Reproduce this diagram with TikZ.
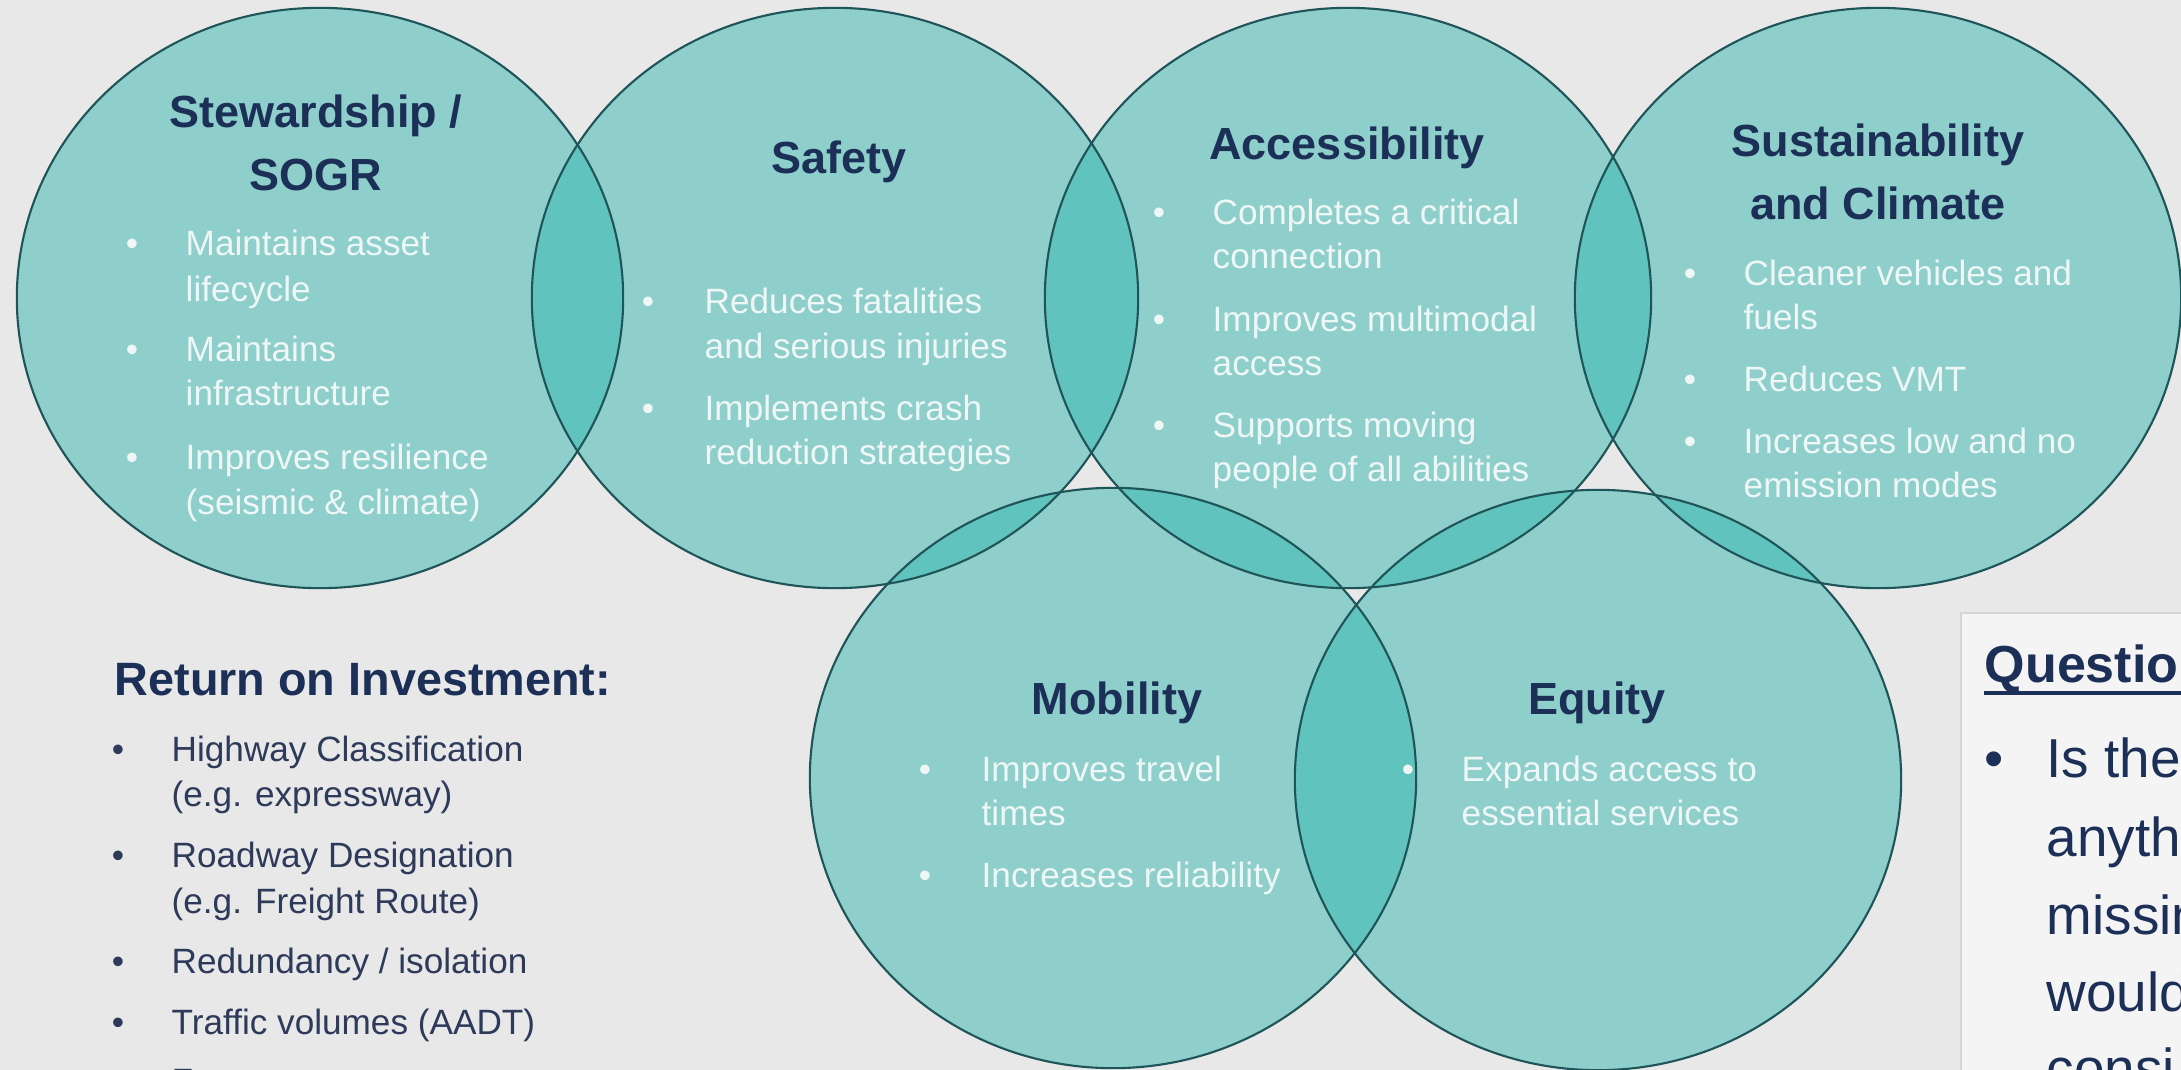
\documentclass[tikz,border=0pt]{standalone}
\usepackage{fontspec}
\setmainfont{Liberation Sans}
\usetikzlibrary{calc}

\definecolor{pagebg}{HTML}{E8E8E8}
\definecolor{ringfill}{RGB}{54,184,176}
\definecolor{ringedge}{HTML}{1F5458}
\definecolor{navy}{HTML}{1B2F57}
\definecolor{paletext}{HTML}{EEF7F6}
\definecolor{roitext}{HTML}{2D3A5A}
\definecolor{qboxfill}{HTML}{F4F4F4}
\definecolor{qboxedge}{HTML}{D6D6D6}

\newcommand\txtbody{\fontsize{10pt}{12pt}\selectfont}
\newcommand\txthead{\fontsize{12.8pt}{15pt}\selectfont\bfseries}
\newcommand\txtroihead{\fontsize{13.3pt}{16pt}\selectfont\bfseries}
\newcommand\txtqhead{\fontsize{14.8pt}{17pt}\selectfont\bfseries}
\newcommand\txtqbody{\fontsize{15.6pt}{18pt}\selectfont}

\tikzset{
  ringpaint/.style={fill=ringfill, fill opacity=0.5},
  ringline/.style={draw=ringedge, line width=0.6pt},
  chead/.style={font=\txthead, text=navy, inner sep=0pt, anchor=base},
  cline/.style={font=\txtbody, text=paletext, inner sep=0pt, anchor=base west},
  cdot/.style={font=\txtbody, text=paletext, inner sep=0pt, anchor=base},
  rhead/.style={font=\txtroihead, text=navy, inner sep=0pt, anchor=base west},
  rline/.style={font=\txtbody, text=roitext, inner sep=0pt, anchor=base west},
  rdot/.style={font=\txtbody, text=roitext, inner sep=0pt, anchor=base},
  qhead/.style={font=\txtqhead, text=navy, inner sep=0pt, anchor=base west},
  qline/.style={font=\txtqbody, text=navy, inner sep=0pt, anchor=base west},
  qdot/.style={font=\txtqbody, text=navy, inner sep=0pt, anchor=base},
}

\begin{document}
\begin{tikzpicture}[x=0.01cm, y=-0.01cm]
\useasboundingbox (0,0) rectangle (2181,1070);
\clip (0,0) rectangle (2181,1070);
\fill[pagebg] (0,0) rectangle (2181,1070);

% ring centres
\coordinate (cstew)  at (320,298);
\coordinate (csafe)  at (835,298);
\coordinate (cacc)   at (1348,298);
\coordinate (csust)  at (1878,298);
\coordinate (cmob)   at (1113,778);
\coordinate (cequ)   at (1598,780);

% translucent fills, overlaps darken
\foreach \c in {cstew,csafe,cacc,csust,cmob,cequ}
  \fill[ringpaint] (\c) ellipse [x radius=3.03cm, y radius=2.90cm];
% outlines on top
\foreach \c in {cstew,csafe,cacc,csust,cmob,cequ}
  \draw[ringline] (\c) ellipse [x radius=3.03cm, y radius=2.90cm];

% Stewardship / SOGR
\node[chead] (hstew1) at (316,128) {Stewardship /};
\node[chead] (hstew2) at (316,191) {SOGR};
\node[cdot] (dstew1) at (132,256) {•};
\node[cline] (lstew1) at (185,256) {Maintains asset};
\node[cline] (lstew2) at (185,301) {lifecycle};
\node[cdot] (dstew2) at (132,362) {•};
\node[cline] (lstew3) at (185,362) {Maintains};
\node[cline] (lstew4) at (185,406) {infrastructure};
\node[cdot] (dstew3) at (132,469) {•};
\node[cline] (lstew5) at (185,469) {Improves resilience};
\node[cline] (lstew6) at (185,514) {(seismic \& climate)};

% Safety
\node[chead] (hsafe) at (839,174) {Safety};
\node[cdot] (dsafe1) at (648,314) {•};
\node[cline] (lsafe1) at (704,314) {Reduces fatalities};
\node[cline] (lsafe2) at (704,359) {and serious injuries};
\node[cdot] (dsafe2) at (648,420) {•};
\node[cline] (lsafe3) at (704,420) {Implements crash};
\node[cline] (lsafe4) at (704,464) {reduction strategies};

% Accessibility
\node[chead] (hacc) at (1347,160) {Accessibility};
\node[cdot] (dacc1) at (1159,225) {•};
\node[cline] (lacc1) at (1212,225) {Completes a critical};
\node[cline] (lacc2) at (1212,269) {connection};
\node[cdot] (dacc2) at (1159,331) {•};
\node[cline] (lacc3) at (1212,331) {Improves multimodal};
\node[cline] (lacc4) at (1212,376) {access};
\node[cdot] (dacc3) at (1159,437) {•};
\node[cline] (lacc5) at (1212,437) {Supports moving};
\node[cline] (lacc6) at (1212,481) {people of all abilities};

% Sustainability and Climate
\node[chead] (hsust1) at (1878,157) {Sustainability};
\node[chead] (hsust2) at (1878,220) {and Climate};
\node[cdot] (dsust1) at (1690,286) {•};
\node[cline] (lsust1) at (1743,286) {Cleaner vehicles and};
\node[cline] (lsust2) at (1743,330) {fuels};
\node[cdot] (dsust2) at (1690,391) {•};
\node[cline] (lsust3) at (1743,391) {Reduces VMT};
\node[cdot] (dsust3) at (1690,453) {•};
\node[cline] (lsust4) at (1743,453) {Increases low and no};
\node[cline] (lsust5) at (1743,498) {emission modes};

% Mobility
\node[chead] (hmob) at (1117,714) {Mobility};
\node[cdot] (dmob1) at (925,781) {•};
\node[cline] (lmob1) at (981,781) {Improves travel};
\node[cline] (lmob2) at (981,825) {times};
\node[cdot] (dmob2) at (925,887) {•};
\node[cline] (lmob3) at (981,887) {Increases reliability};

% Equity
\node[chead] (hequ) at (1597,714) {Equity};
\node[cdot] (dequ1) at (1408,781) {•};
\node[cline] (lequ1) at (1461,781) {Expands access to};
\node[cline] (lequ2) at (1461,825) {essential services};

% Return on Investment list
\node[rhead] (hroi) at (114,695) {Return on Investment:};
\node[rdot] (droi1) at (118,761) {•};
\node[rline] (lroi1) at (171,761) {Highway Classification};
\node[rline] (lroi2) at (171,806) {(e.g. expressway)};
\node[rdot] (droi2) at (118,867) {•};
\node[rline] (lroi3) at (171,867) {Roadway Designation};
\node[rline] (lroi4) at (171,913) {(e.g. Freight Route)};
\node[rdot] (droi3) at (118,973) {•};
\node[rline] (lroi5) at (171,973) {Redundancy / isolation};
\node[rdot] (droi4) at (118,1034) {•};
\node[rline] (lroi6) at (171,1034) {Traffic volumes (AADT)};
\node[rdot] (droi5) at (118,1093) {•};
\node[rline] (lroi7) at (171,1093) {Fr};

% Questions panel, running off the right edge
\filldraw[fill=qboxfill, draw=qboxedge, line width=0.8pt] (1961,613) rectangle (2200,1090);
\node[qhead] (qhead) at (1984,682) {Questio};
\draw[navy, line width=1pt] ($(qhead.base west)+(0,11)$) -- (2185,693);
\node[qdot] (qdot1) at (1994,777) {•};
\node[qline] (q1) at (2046,777) {Is the};
\node[qline] (q2) at (2046,856) {anyth};
\node[qline] (q3) at (2046,934) {missin};
\node[qline] (q4) at (2046,1011) {would};
\node[qline] (q5) at (2046,1087) {consi};
\end{tikzpicture}
\end{document}
